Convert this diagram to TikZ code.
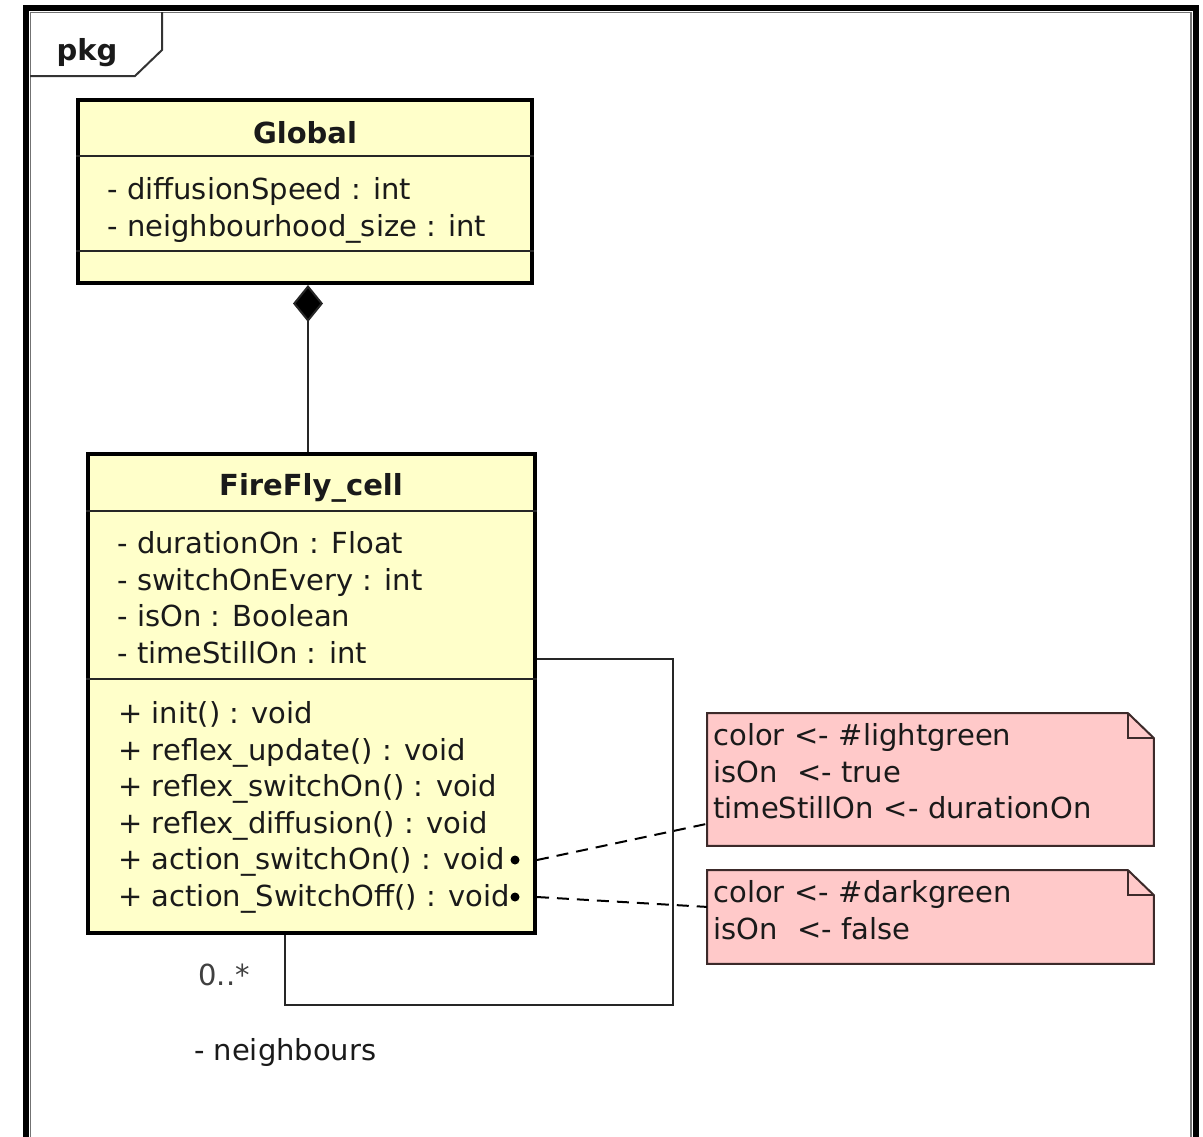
\documentclass[tikz,border=0pt]{standalone}
\usepackage{fontspec}
\setmainfont{DejaVu Sans}
\usepackage{tikz}
\usetikzlibrary{positioning, arrows.meta, calc, backgrounds}
\definecolor{classfill}{HTML}{FFFFCA}
\definecolor{notefill}{HTML}{FFC9C9}
\definecolor{noteline}{HTML}{3C2A2A}
\definecolor{ink}{HTML}{1A1A1A}
\newcommand{\umlfont}{\fontsize{14.5pt}{18.3pt}\selectfont}

\begin{document}
\begin{tikzpicture}[x=0.5pt, y=-0.5pt,
  every node/.style={font=\umlfont, text=ink},
  classbox/.style={draw=black, line width=2pt, fill=classfill, inner sep=0pt},
  classname/.style={font=\umlfont\bfseries, anchor=base},
  members/.style={anchor=north west, align=left, inner sep=0pt},
  sepline/.style={draw=black!85, line width=1pt},
  notebox/.style={anchor=north west, align=left, inner xsep=3pt, inner ysep=0pt,
                  text width=217pt, text height=16pt},
  notefold/.style={draw=noteline, line width=1pt},
  notelink/.style={draw=black, line width=1pt, dash pattern=on 6pt off 4pt},
  notedot/.style={circle, fill=black, inner sep=0pt, minimum size=4.5pt},
  assoc/.style={draw=black!85, line width=1pt},
  compose/.style={assoc, -{Diamond[length=18.5pt, width=15pt, fill=black]}}]
\useasboundingbox (0,0) rectangle (1203,1136);

% package frame
\draw[black, line width=3pt] (26,1145) -- (26,8) -- (1196,8) -- (1196,1145);
\draw[black!55, line width=0.8pt] (30.5,1145) -- (30.5,12.5) -- (1191,12.5) -- (1191,1145);
\draw[black!80, line width=1pt] (30,76) -- (135,76) -- (162,50) -- (162,12);
\node[classname] (pkg) at (87,60) {pkg};

% classes
\node[classbox, minimum width=227pt, minimum height=91.5pt] (global) at (305,191.5) {};
\node[classname] (globalname) at (305,143) {Global};
\draw[sepline] ($(global.north west)+(0,58)$) -- ($(global.north east)+(0,58)$);
\draw[sepline] ($(global.north west)+(0,153)$) -- ($(global.north east)+(0,153)$);
\node[members] (globalattr) at (107,177)
  {- diffusionSpeed : int\\- neighbourhood\_size : int};

\node[classbox, minimum width=223.5pt, minimum height=239.5pt] (ffcell) at (311.5,693.5) {};
\node[classname] (ffname) at (311,495) {FireFly\_cell};
\draw[sepline] ($(ffcell.north west)+(0,59)$) -- ($(ffcell.north east)+(0,59)$);
\draw[sepline] ($(ffcell.north west)+(0,227)$) -- ($(ffcell.north east)+(0,227)$);
\node[members] (ffattr) at (117,531)
  {- durationOn : Float\\- switchOnEvery : int\\- isOn : Boolean\\- timeStillOn : int};
\node[members] (ffops) at (118,701)
  {+ init() : void\\+ reflex\_update() : void\\+ reflex\_switchOn() : void\\
   + reflex\_diffusion() : void\\+ action\_switchOn() : void\\+ action\_SwitchOff() : void};
\node[notedot] (dot1) at (515,860) {};
\node[notedot] (dot2) at (515,897) {};

% notes
\node[notebox, text depth=50pt] (note1) at (707,713)
  {color <- \#lightgreen\\isOn\ \ <- true\\timeStillOn <- durationOn};
\node[notebox, text depth=30.5pt] (note2) at (707,870)
  {color <- \#darkgreen\\isOn\ \ <- false};
\begin{scope}[on background layer]
\filldraw[notefold, fill=notefill] (note1.north west) -- ($(note1.north east)+(-26,0)$)
  -- ($(note1.north east)+(0,25)$) -- (note1.south east) -- (note1.south west) -- cycle;
\draw[notefold] ($(note1.north east)+(-26,0)$) |- ($(note1.north east)+(0,25)$);
\filldraw[notefold, fill=notefill] (note2.north west) -- ($(note2.north east)+(-26,0)$)
  -- ($(note2.north east)+(0,25)$) -- (note2.south east) -- (note2.south west) -- cycle;
\draw[notefold] ($(note2.north east)+(-26,0)$) |- ($(note2.north east)+(0,25)$);
\end{scope}

% connectors
\draw[compose] (ffcell.north -| 308,0) -- (global.south -| 308,0);
\draw[notelink] (dot1 -| ffcell.east) -- ($(note1.south west)+(0,-22)$);
\draw[notelink] (dot2 -| ffcell.east) -- ($(note2.west)+(0,-10)$);
\coordinate (loopcorner) at (673,1005);
\draw[assoc] (ffcell.east |- 0,659) -| (loopcorner) -| (ffcell.south -| 285,0);
\node[anchor=base east, text=black!75] (mult) at (257,985) {0..*};
\node[anchor=base west] (role) at (187,1060) {- neighbours};
\end{tikzpicture}
\end{document}
